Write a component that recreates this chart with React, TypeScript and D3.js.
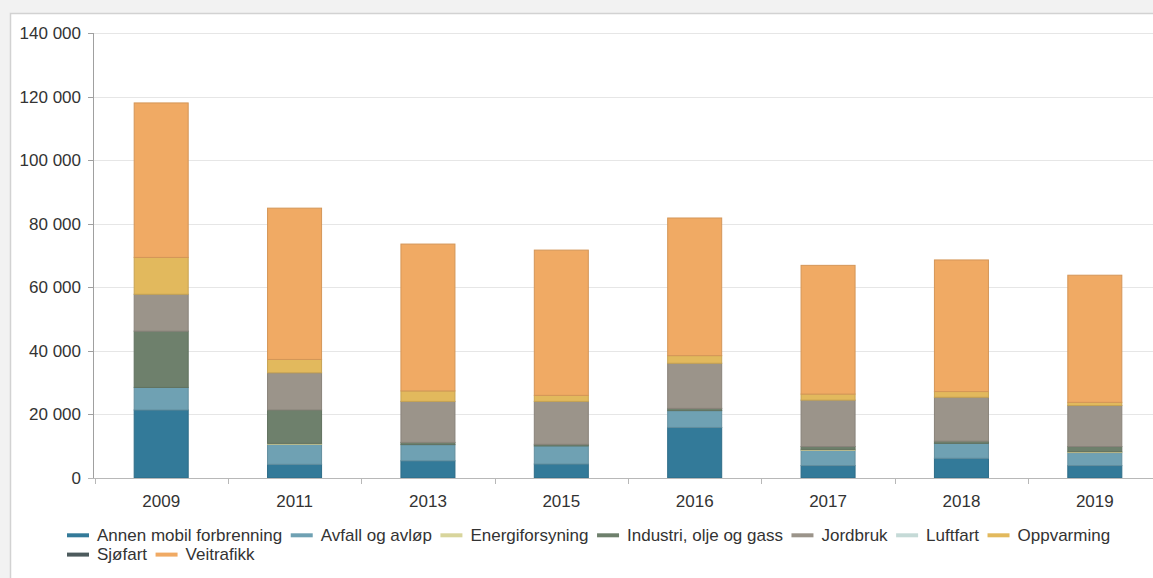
import React from 'react';
import * as d3 from 'd3';

const years = ['2009', '2011', '2013', '2015', '2016', '2017', '2018', '2019'];
const seriesNames = [
  'Annen mobil forbrenning',
  'Avfall og avløp',
  'Energiforsyning',
  'Industri, olje og gass',
  'Jordbruk',
  'Luftfart',
  'Oppvarming',
  'Sjøfart',
  'Veitrafikk',
];
const seriesColors = ['#337a99', '#6fa1b3', '#d8d59c', '#6e806c', '#9b948a', '#c5dad7', '#e2b95d', '#4d5b5d', '#f0aa64'];

const annen = [21400, 4300, 5400, 4400, 15900, 3900, 6200, 3900];
const avfall = [7100, 6300, 5100, 5700, 5300, 4800, 4700, 4100];
const energi = [0, 300, 0, 0, 0, 300, 0, 300];
const industri = [17700, 10500, 700, 500, 700, 900, 700, 1600];
const jordbruk = [11600, 11700, 12900, 13500, 14200, 14600, 13800, 12900];
const luftfart = [0, 0, 0, 0, 0, 0, 0, 0];
const oppvarming = [11600, 4200, 3300, 1900, 2400, 1900, 1800, 1000];
const sjofart = [0, 0, 0, 0, 0, 0, 0, 0];
const veitrafikk = [48600, 47600, 46200, 45700, 43300, 40500, 41400, 40000];

const yTicks = [0, 20000, 40000, 60000, 80000, 100000, 120000, 140000];

const W = 1153;
const H = 578;
const FONT = '"Liberation Sans", Arial, sans-serif';
const FS = 17;

function measure(text: string, size: number) {
  const c = document.createElement('canvas').getContext('2d');
  if (!c) return text.length * size * 0.5;
  c.font = `${size}px ${FONT}`;
  return c.measureText(text).width;
}

export default function App() {
  const allSeries = [annen, avfall, energi, industri, jordbruk, luftfart, oppvarming, sjofart, veitrafikk];
  const rows = years.map((y, i) => {
    const r: any = { year: y };
    seriesNames.forEach((n, k) => (r[n] = allSeries[k][i]));
    return r;
  });
  const stacked = d3.stack<any>().keys(seriesNames)(rows);

  const x = d3.scaleBand<string>().domain(years).range([94.5, 1161.5]).padding(0);
  const y = d3.scaleLinear().domain([0, 140000]).range([478, 33]);
  const barW = x.bandwidth() * 0.405;
  const fmt = (v: number) => d3.format(',')(v).replace(/,/g, ' ');

  const boundaries = [...years.map((yr) => x(yr) as number), (x(years[years.length - 1]) as number) + x.bandwidth()];

  // legend layout
  const legendItems: { name: string; color: string; x: number; row: number }[] = [];
  let lx = 67;
  let row = 0;
  seriesNames.forEach((n, i) => {
    const tw = measure(n, FS);
    const itemW = 30 + tw;
    if (lx + itemW > 1140) {
      row += 1;
      lx = 67;
    }
    legendItems.push({ name: n, color: seriesColors[i], x: lx, row });
    lx += itemW + 8.5;
  });

  return (
    <div style={{ position: 'absolute', left: 0, top: 0, width: W, height: H, overflow: 'hidden', background: '#f2f2f2' }}>
      <svg width={W} height={H} style={{ display: 'block', fontFamily: FONT }}>
        <rect x={10.5} y={13.5} width={1300} height={700} fill="#ffffff" stroke="#d2d2d2" strokeWidth={1.5} />
        {yTicks.filter((t) => t > 0).map((t) => (
          <line key={t} x1={94} x2={1161} y1={Math.round(y(t)) + 0.5} y2={Math.round(y(t)) + 0.5} stroke="#e6e6e6" strokeWidth={1} />
        ))}
        {stacked.map((s, k) =>
          s.map((d, i) => {
            const h = y(d[0]) - y(d[1]);
            if (h <= 0) return null;
            const cx = (x(years[i]) as number) + x.bandwidth() / 2;
            const col = seriesColors[k];
            return (
              <rect
                key={`${k}-${i}`}
                x={cx - barW / 2}
                y={y(d[1])}
                width={barW}
                height={h}
                fill={col}
                stroke={d3.color(col)!.darker(0.35).formatHex()}
                strokeWidth={1}
              />
            );
          })
        )}
        {/* y axis */}
        <line x1={93.5} x2={93.5} y1={33} y2={478} stroke="#a0a0a0" strokeWidth={1} />
        {yTicks.map((t) => (
          <g key={t}>
            <line x1={88} x2={93.5} y1={Math.round(y(t)) + 0.5} y2={Math.round(y(t)) + 0.5} stroke="#a0a0a0" />
            <text x={81} y={y(t) + 6} textAnchor="end" fontSize={FS} fill="#333">
              {fmt(t)}
            </text>
          </g>
        ))}
        {/* x axis */}
        <line x1={88} x2={1161} y1={478.5} y2={478.5} stroke="#b8b8b8" strokeWidth={1} />
        {boundaries.map((b, i) => (
          <line key={i} x1={Math.round(b) + 0.5} x2={Math.round(b) + 0.5} y1={478} y2={484} stroke="#b8b8b8" />
        ))}
        {years.map((yr) => (
          <text key={yr} x={(x(yr) as number) + x.bandwidth() / 2} y={506.5} textAnchor="middle" fontSize={FS} fill="#333">
            {yr}
          </text>
        ))}
        {/* legend */}
        {legendItems.map((it) => {
          const by = 541 + it.row * 19.3;
          return (
            <g key={it.name}>
              <line x1={it.x} x2={it.x + 22} y1={by - 5.7} y2={by - 5.7} stroke={it.color} strokeWidth={4} />
              <text x={it.x + 30} y={by} fontSize={FS} fill="#333">
                {it.name}
              </text>
            </g>
          );
        })}
      </svg>
    </div>
  );
}
